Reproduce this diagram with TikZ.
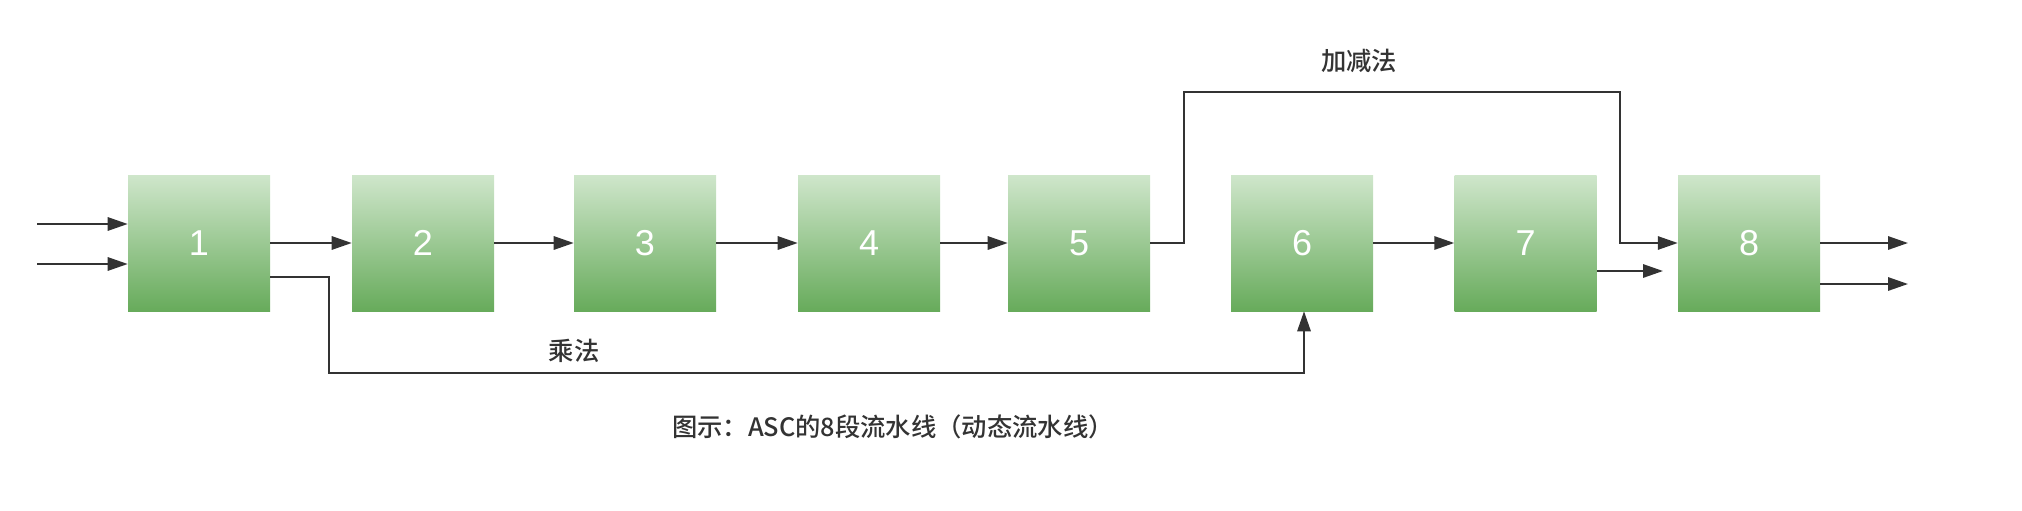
\documentclass[tikz,border=0pt]{standalone}
\usepackage{fontspec}
\setmainfont{Liberation Sans}
\newfontfamily\cjk{Noto Sans CJK SC Medium}
\usetikzlibrary{arrows.meta}
\definecolor{txt}{HTML}{333333}
\definecolor{gtop}{HTML}{CFE6CB}
\definecolor{gbot}{HTML}{67AB5B}
\tikzset{
  stage/.style={draw=none, top color=gtop, bottom color=gbot, minimum width=106.5pt, minimum height=102pt,
    inner sep=0pt, text=white, font=\fontsize{27}{30}\selectfont},
  arr/.style={draw=txt, line width=1.5pt, -{Triangle[length=15pt,width=10pt]}},
  ln/.style={draw=txt, line width=1.5pt},
  lbl/.style={text=txt, font=\cjk\fontsize{19}{22}\selectfont, inner sep=0pt}
}
\begin{document}
\begin{tikzpicture}[x=0.75pt,y=-0.75pt]
\useasboundingbox (0,0) rectangle (2022,510);
\node[stage] (b1) at (199,243) {1};
\node[stage] (b2) at (423,243) {2};
\node[stage] (b3) at (645,243) {3};
\node[stage] (b4) at (869,243) {4};
\node[stage] (b5) at (1079,243) {5};
\node[stage] (b6) at (1302,243) {6};
\node[stage] (b7) at (1525.5,243) {7};
\node[stage] (b8) at (1749,243) {8};
% inputs
\coordinate (in1) at (37,224);
\coordinate (in2) at (37,264);
\draw[arr] (in1) -- (in1 -| b1.west);
\draw[arr] (in2) -- (in2 -| b1.west);
% chain
\draw[arr] (b1.east) -- (b2.west);
\draw[arr] (b2.east) -- (b3.west);
\draw[arr] (b3.east) -- (b4.west);
\draw[arr] (b4.east) -- (b5.west);
\draw[arr] (b6.east) -- (b7.west);
% multiplication bypass
\coordinate (y277) at (0,277);
\coordinate (m1) at (329,277);
\coordinate (m2) at (329,373);
\coordinate (m3) at (1304,373);
\draw[arr] (b1.east |- y277) -- (m1) -- (m2) -- (m3) -- (m3 |- b6.south);
% add/sub bypass
\coordinate (a1) at (1184,243);
\coordinate (a2) at (1184,92);
\coordinate (a3) at (1620,92);
\coordinate (a4) at (1620,243);
\draw[arr] (b5.east) -- (a1) -- (a2) -- (a3) -- (a4) -- (b8.west);
% outputs
\coordinate (y271) at (0,271);
\coordinate (o7) at (1663,271);
\draw[arr] (b7.east |- y271) -- (o7);
\coordinate (o8a) at (1908,243);
\coordinate (o8b) at (1908,284);
\draw[arr] (b8.east) -- (o8a);
\draw[arr] (b8.east |- o8b) -- (o8b);
% labels
\node[lbl] (mul) at (574,351) {乘法};
\node[lbl] (add) at (1359,61) {加减法};
\node[lbl] (cap) at (893,427) {图示：ASC的8段流水线（动态流水线）};
\end{tikzpicture}
\end{document}
